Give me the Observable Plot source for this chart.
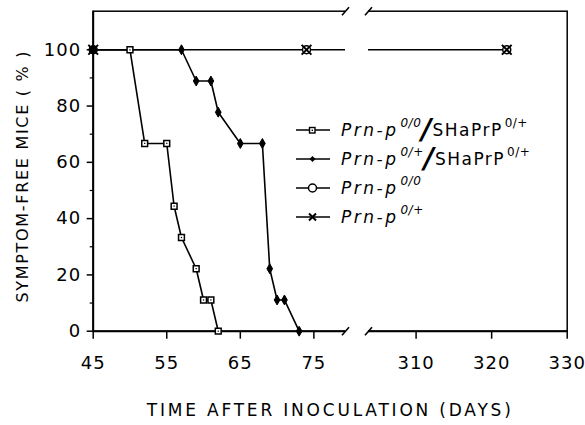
<!DOCTYPE html>
<html><head><meta charset="utf-8">
<script src="https://cdn.jsdelivr.net/npm/d3@7"></script>
<script src="https://cdn.jsdelivr.net/npm/@observablehq/plot@0.6"></script>
<style>
body{margin:0;background:#fff;}
#wrap{position:relative;width:585px;height:425px;overflow:hidden;}
#legend{position:absolute;left:0;top:0;font-family:"DejaVu Sans",sans-serif;color:#000;}
.row{position:absolute;left:295px;height:28px;display:flex;align-items:center;white-space:nowrap;font-size:17px;}
.row svg{margin-right:10px;}
.it{font-style:italic;letter-spacing:2.5px;}
.sup{font-size:12px;position:relative;top:-7px;letter-spacing:0.5px;margin-left:2px;}
.sl{font-size:28px;font-weight:bold;font-style:italic;margin:0 1px 0 0;position:relative;top:-1px;}
.rg{letter-spacing:1.5px;}
</style>
</head><body>
<div id="wrap"></div>
<script>
// ---- data ----
const sqDays = [45, 50, 52, 55, 56, 57, 59, 60, 61, 62];
const sqVals = [100, 100, 66.7, 66.7, 44.4, 33.3, 22.2, 11.1, 11.1, 0];
const dmDays = [45, 57, 59, 61, 62, 65, 68, 69, 70, 71, 73];
const dmVals = [100, 100, 88.9, 88.9, 77.8, 66.7, 66.7, 22.2, 11.1, 11.1, 0];
const ciDays = [45, 74, 322];
const ciVals = [100, 100, 100];
const crDays = [45, 74, 322];
const crVals = [100, 100, 100];
const xTicks = [45, 55, 65, 75, 310, 320, 330];
const yTicks = [0, 20, 40, 60, 80, 100];
const yMinor = [10, 30, 50, 70, 90];
const breakDays = [79.3, 303.7];
const legendNames = [
  ["Prn-p", "0/0", "SHaPrP", "0/+"],
  ["Prn-p", "0/+", "SHaPrP", "0/+"],
  ["Prn-p", "0/0"],
  ["Prn-p", "0/+"]
];
const xTitle = "TIME AFTER INOCULATION (DAYS)";
const yTitle = "SYMPTOM-FREE MICE ( % )";

// ---- build ----
const mk = (days, vals, s) => days.map((d, i) => ({day: d, pct: vals[i], s}));
const sq = mk(sqDays, sqVals, "sq");
const dm = mk(dmDays, dmVals, "dm");
const ci = mk(ciDays, ciVals, "ci");
const cr = mk(crDays, crVals, "cr");
const yTop = 113.7;
const brk = [{x1: breakDays[0], x2: breakDays[1]}];
const slashes = breakDays.flatMap(d => [{day: d, pct: 0}, {day: d, pct: yTop}]);
const slashSymbol = {draw(ctx) { ctx.moveTo(-3.5, 4); ctx.lineTo(3.5, -4); }};
const font = "DejaVu Sans, sans-serif";

const plot = Plot.plot({
  width: 585, height: 425,
  marginLeft: 92.7, marginRight: 18.3, marginTop: 10.7, marginBottom: 94.3,
  style: {fontFamily: font, fontSize: "18px", background: "#fff", color: "#000"},
  x: {type: "linear", domain: [45, breakDays[0], breakDays[1], 330], range: [92.7, 345, 368, 566.7]},
  y: {domain: [0, yTop]},
  marks: [
    Plot.line(ci, {x: "day", y: "pct", stroke: "#000", strokeWidth: 1.6}),
    Plot.line(sq, {x: "day", y: "pct", stroke: "#000", strokeWidth: 1.6}),
    Plot.line(dm, {x: "day", y: "pct", stroke: "#000", strokeWidth: 1.6}),
    Plot.frame({stroke: "#000", strokeWidth: 1.5}),
    Plot.ruleX([45], {stroke: "#000", strokeWidth: 2}),
    Plot.ruleY([0], {stroke: "#000", strokeWidth: 2}),
    Plot.rect(brk, {x1: "x1", x2: "x2", y1: 0, y2: yTop, fill: "#fff", insetTop: -3, insetBottom: -3}),
    Plot.dot(slashes, {x: "day", y: "pct", symbol: slashSymbol, stroke: "#000", strokeWidth: 1.6, r: 4}),
    Plot.dot(ci, {x: "day", y: "pct", symbol: "circle", r: 4, fill: "#fff", stroke: "#000", strokeWidth: 1.5}),
    Plot.dot(sq, {x: "day", y: "pct", symbol: "square", r: 3.3, fill: "#fff", stroke: "#000", strokeWidth: 1.5}),
    Plot.dot(sq, {x: "day", y: "pct", symbol: "square", r: 0.7, fill: "#000"}),
    Plot.dot(cr, {x: "day", y: "pct", symbol: "times", r: 4.5, stroke: "#000", strokeWidth: 2}),
    Plot.dot(dm, {x: "day", y: "pct", symbol: "diamond", r: 3, fill: "#000", stroke: "#000", strokeWidth: 1}),
    Plot.axisY(yTicks, {tickSize: 6, tickPadding: 6, strokeWidth: 1.5, fontSize: 18, label: null}),
    Plot.axisY(yMinor, {tickSize: 3, tickFormat: () => "", strokeWidth: 1.2, label: null}),
    Plot.axisX(xTicks, {tickSize: 8, tickPadding: 17, strokeWidth: 1.5, fontSize: 18, label: null}),
    Plot.text([xTitle], {frameAnchor: "bottom", dy: 79, fontSize: 17, text: d => d, lineAnchor: "middle"}),
    Plot.text([yTitle], {frameAnchor: "left", dx: -70, dy: 5, rotate: -90, fontSize: 16, text: d => d, textAnchor: "middle", lineAnchor: "middle"})
  ]
});
plot.querySelectorAll("g[aria-label='y-axis tick label'] text, g[aria-label='x-axis tick label'] text").forEach(t => t.style.letterSpacing = "1px");
const texts = plot.querySelectorAll("g[aria-label='text'] text");
texts[0].style.letterSpacing = "2.8px";
texts[1].style.letterSpacing = "1.7px";
const wrap = document.getElementById("wrap");
wrap.appendChild(plot);

// ---- legend (inside the frame) ----
const legend = document.createElement("div");
legend.id = "legend";
const rowCenters = [130, 159, 188, 217];
const symSvg = [
  '<line x1="1" y1="8" x2="35" y2="8" stroke="#000" stroke-width="1.6"/><rect x="14.5" y="5.5" width="5.5" height="5.5" fill="#fff" stroke="#000" stroke-width="1.4"/><rect x="16.6" y="7.6" width="1.4" height="1.4" fill="#000"/>',
  '<line x1="1" y1="8" x2="35" y2="8" stroke="#000" stroke-width="1.6"/><path d="M17.5 5 L20.5 8 L17.5 11 L14.5 8 Z" fill="#000"/>',
  '<line x1="1" y1="8" x2="35" y2="8" stroke="#000" stroke-width="1.6"/><circle cx="17.5" cy="8" r="4" fill="#fff" stroke="#000" stroke-width="1.5"/>',
  '<line x1="1" y1="8" x2="35" y2="8" stroke="#000" stroke-width="1.6"/><path d="M14 4.5 L21 11.5 M21 4.5 L14 11.5" stroke="#000" stroke-width="2"/>'
];
legendNames.forEach((n, i) => {
  const row = document.createElement("div");
  row.className = "row";
  row.style.top = (rowCenters[i] - 14) + "px";
  let html = '<svg width="36" height="16">' + symSvg[i] + '</svg>';
  html += '<span class="it">' + n[0] + '</span><span class="sup it">' + n[1] + '</span>';
  if (n.length > 2) html += '<span class="sl">/</span><span class="rg">' + n[2] + '</span><span class="sup">' + n[3] + '</span>';
  row.innerHTML = html;
  legend.appendChild(row);
});
wrap.appendChild(legend);
</script>
</body></html>
